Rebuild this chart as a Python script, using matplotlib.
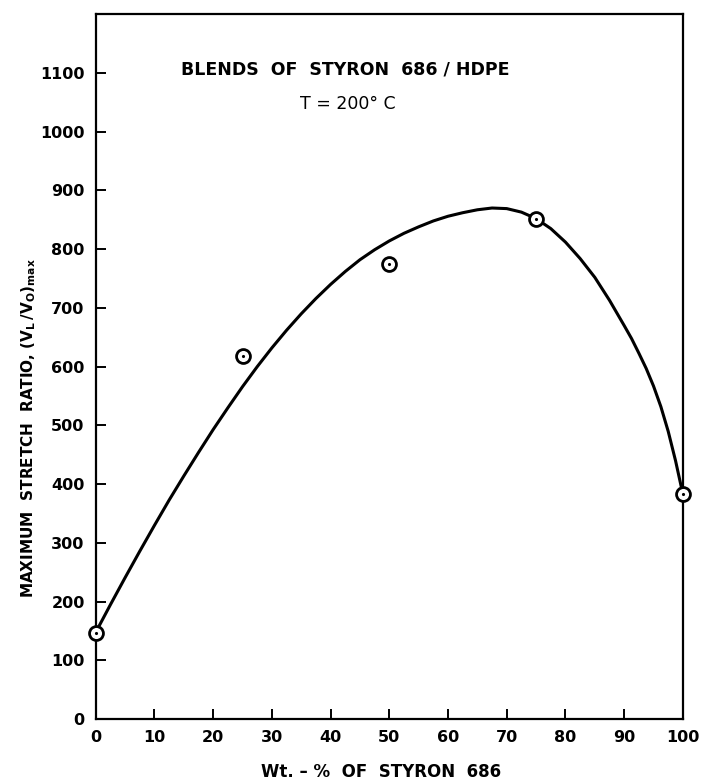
import matplotlib.pyplot as plt

# measured points (wt-% styron, stretch ratio)
pts_x = [0, 25, 50, 75, 100]
pts_y = [146, 618, 775, 852, 383]

# smooth curve
curve_x = [0, 2.5, 5, 7.5, 10, 12.5, 15, 17.5, 20, 22.5, 25, 27.5, 30, 32.5, 35,
           37.5, 40, 42.5, 45, 47.5, 50, 52.5, 55, 57.5, 60, 62.5, 65, 67.5, 70,
           72.5, 75, 77.5, 80, 82.5, 85, 87.5, 90, 91.25, 92.5, 93.75, 95,
           96.25, 97.5, 98.75, 100]
curve_y = [148, 195, 241, 286, 330, 373, 414, 454, 493, 530, 566, 600, 632, 662,
           690, 716, 740, 762, 782, 799, 814, 827, 838, 848, 856, 862, 867, 870,
           869, 863, 852, 835, 812, 784, 752, 713, 670, 648, 623, 597, 567,
           532, 490, 440, 383]

xticks = list(range(0, 101, 10))
yticks = list(range(0, 1101, 100))

fig = plt.figure(figsize=(7.04, 7.83), dpi=100)
ax = fig.add_axes([0.136, 0.0814, 0.834, 0.9006])

ax.plot(curve_x, curve_y, 'k-', lw=2.2, zorder=2, solid_joinstyle='round')
ax.plot(pts_x, pts_y, 'o', ms=10, mfc='white', mec='black', mew=2, zorder=3,
        clip_on=False)
ax.plot(pts_x, pts_y, 'k.', ms=2.5, zorder=4, clip_on=False)

ax.set_xlim(0, 100)
ax.set_ylim(0, 1200)
ax.set_xticks(xticks)
ax.set_yticks(yticks)
ax.tick_params(direction='in', length=7.5, width=1.4, labelsize=11.5, pad=8,
               top=False, right=False)
for lab in ax.get_xticklabels() + ax.get_yticklabels():
    lab.set_fontweight('bold')
for s in ax.spines.values():
    s.set_linewidth(1.6)

xl = ax.set_xlabel('Wt. – %  OF  STYRON  686', fontsize=12, fontweight='bold')
xl.set_verticalalignment('center')
ax.xaxis.set_label_coords(0.486, -0.075)

yl = ax.set_ylabel(r'MAXIMUM  STRETCH  RATIO, $\mathbf{(V_L\,/V_O)_{max}}$',
                   fontsize=11, fontweight='bold')
yl.set_verticalalignment('center')
ax.yaxis.set_label_coords(-0.114, 0.413)

ax.text(42.5, 1106, 'BLENDS  OF  STYRON  686 / HDPE', ha='center', va='center',
        fontsize=12.5, fontweight='bold')
ax.text(43, 1047, 'T = 200° C', ha='center', va='center', fontsize=12.5)

fig.savefig('out.png', dpi=100)
